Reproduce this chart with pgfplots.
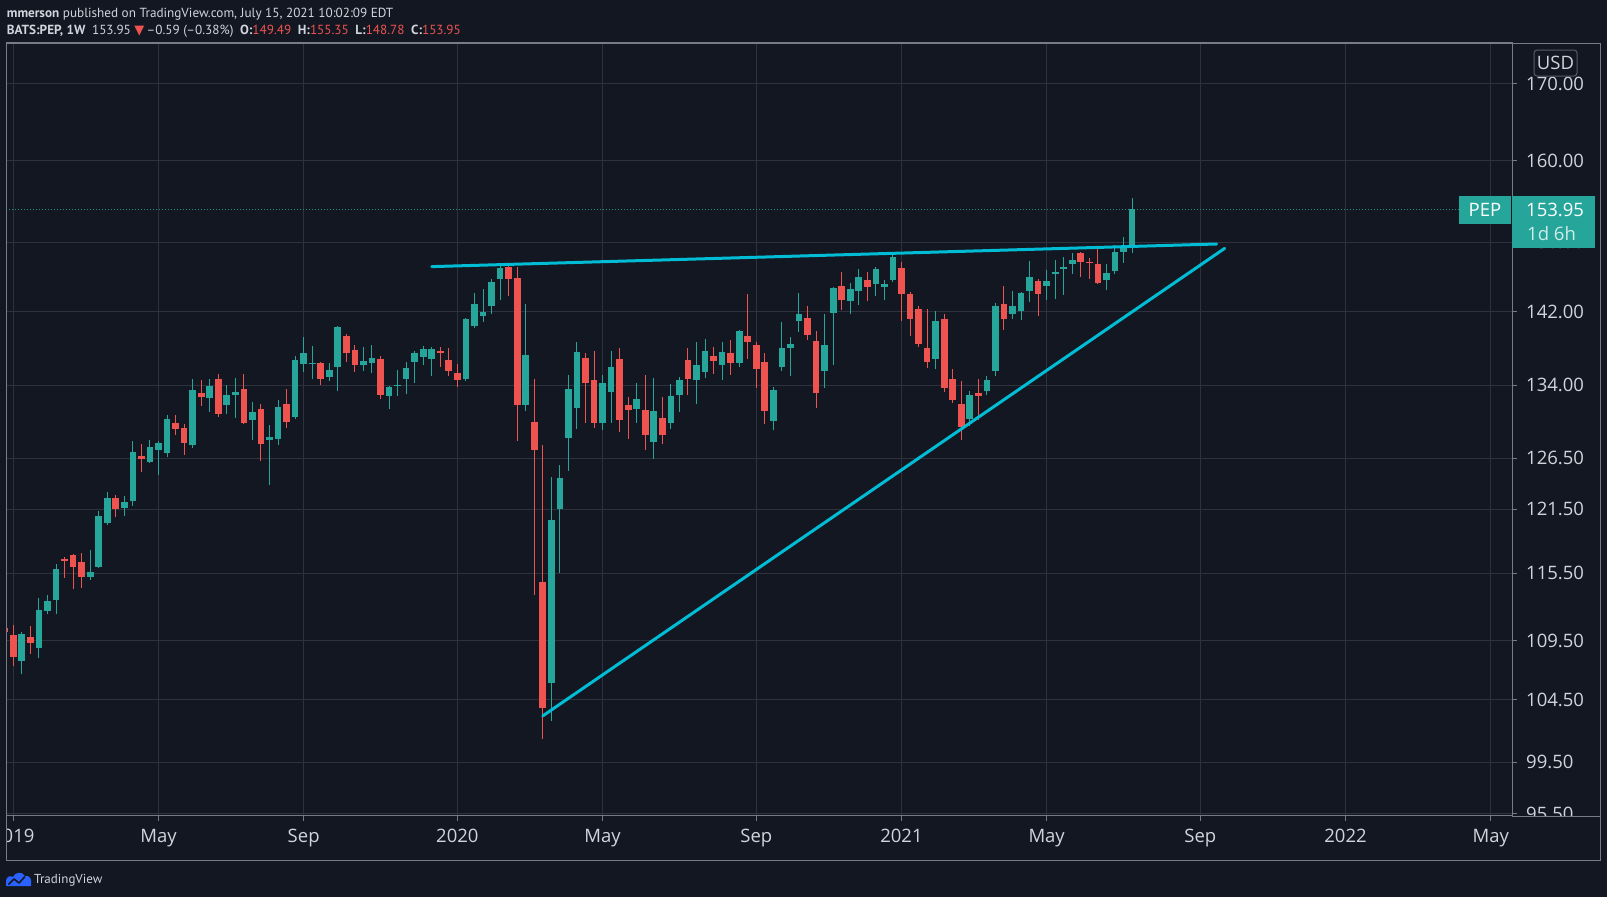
\documentclass[border=0pt]{standalone}
\usepackage{pgfplots}
\pgfplotsset{compat=1.18}
\usepackage{pgfplotstable}
\usepackage{fontspec}
\setmainfont{Open Sans}
\newfontfamily\hdrfont{PT Sans}
\newfontfamily\symfont{DejaVu Sans}

\definecolor{bg}{HTML}{131722}
\definecolor{gridc}{HTML}{2E323E}
\definecolor{framec}{HTML}{787B86}
\definecolor{txt}{HTML}{D1D4DC}
\definecolor{candleup}{HTML}{26A69A}
\definecolor{candledown}{HTML}{EF5350}
\definecolor{trend}{HTML}{00BCD4}
\definecolor{tvblue}{HTML}{2962FF}

% Weekly PEP candles: week index (0 = first week of Jan 2019), open, high, low, close
\pgfplotstableread{
w o h l c
-1 110.6 110.9 110.0 110.3
0 110.0 110.9 107.3 108.1
1 107.8 110.3 106.7 110.1
2 109.8 110.8 108.4 109.3
3 108.9 113.3 108.0 112.2
4 112.1 113.5 111.8 113.0
5 113.1 116.3 111.8 115.9
6 116.8 117.0 115.1 116.6
7 117.2 117.3 114.1 116.1
8 116.5 117.4 114.2 115.2
9 115.2 117.6 114.9 115.6
10 116.1 121.3 116.0 120.8
11 120.2 123.2 120.0 122.6
12 122.6 122.9 120.7 121.5
13 121.6 122.8 120.8 122.2
14 122.3 128.2 121.8 127.1
15 126.7 127.9 125.1 126.4
16 126.1 128.3 126.0 127.6
17 127.3 128.2 124.8 128.0
18 127.0 130.9 126.6 130.5
19 130.1 130.9 128.8 129.4
20 129.5 129.9 126.8 128.0
21 127.8 134.7 127.5 133.5
22 133.2 134.5 131.8 132.7
23 132.6 134.6 131.2 133.9
24 134.7 135.2 130.7 131.0
25 131.9 134.0 131.0 133.0
26 133.0 134.8 130.6 133.3
27 133.6 135.2 129.9 130.0
28 130.4 132.2 128.3 131.2
29 131.5 132.0 126.2 127.9
30 128.3 129.8 123.8 128.6
31 128.4 132.4 127.8 131.7
32 132.0 133.6 129.5 130.2
33 130.7 137.1 130.5 136.7
34 136.3 139.2 135.4 137.4
35 136.3 138.2 134.6 136.4
36 136.4 136.5 134.0 134.6
37 134.9 136.4 134.4 135.6
38 135.9 140.4 133.4 140.3
39 139.3 139.5 136.5 137.5
40 137.8 138.3 135.4 136.2
41 136.2 138.1 135.5 136.6
42 136.4 138.3 135.3 136.9
43 136.8 137.1 132.5 133.0
44 132.9 133.9 131.5 133.8
45 133.9 135.6 132.9 134.0
46 134.6 136.5 133.1 135.8
47 136.5 137.7 134.2 137.4
48 137.0 138.2 136.1 137.9
49 136.8 138.1 135.0 137.9
50 137.7 138.1 135.9 137.5
51 136.7 138.0 135.0 135.5
52 135.3 136.3 133.8 134.5
53 134.6 141.3 134.4 141.2
54 140.4 144.1 140.2 142.9
55 141.5 144.6 140.9 142.0
56 142.7 145.7 141.8 145.4
57 145.7 147.2 143.3 147.0
58 147.1 147.2 143.8 145.7
59 145.8 147.1 128.2 131.9
60 131.9 142.9 131.3 137.2
61 130.2 134.6 113.5 127.3
62 114.7 127.8 101.3 103.8
63 105.9 124.6 102.8 120.5
64 121.5 125.8 115.5 124.5
65 128.5 135.1 125.2 133.6
66 131.6 138.7 129.4 137.6
67 136.9 137.4 130.0 134.2
68 134.5 137.7 129.5 130.1
69 130.1 135.1 129.3 134.2
70 133.3 137.7 130.1 135.9
71 136.8 138.0 129.1 130.4
72 131.9 132.8 128.4 131.4
73 131.5 134.2 130.1 132.5
74 131.4 135.1 127.3 128.8
75 128.1 134.8 126.4 131.3
76 130.6 132.7 127.9 128.8
77 130.1 134.1 129.4 132.9
78 133.0 134.9 131.2 134.5
79 136.7 138.0 133.0 134.6
80 134.5 138.7 132.0 136.1
81 135.4 139.0 134.8 137.7
82 137.1 138.1 135.2 136.6
83 136.2 138.7 134.5 137.6
84 137.5 138.9 135.1 136.4
85 136.4 140.0 135.9 139.9
86 139.3 144.0 136.8 138.7
87 138.3 138.7 133.7 135.7
88 136.5 137.5 129.9 131.3
89 130.3 133.8 129.3 133.5
90 135.9 140.9 135.5 138.0
91 138.0 139.2 135.0 138.4
92 141.0 144.1 139.7 141.8
93 141.3 142.6 138.9 139.4
94 138.8 139.9 131.6 133.2
95 135.5 141.7 133.7 138.3
96 141.9 144.8 136.1 144.7
97 144.9 146.5 142.2 143.3
98 143.2 145.3 141.8 144.6
99 144.4 146.9 142.8 145.9
100 145.6 146.5 143.2 144.8
101 145.2 147.1 143.8 146.9
102 144.8 145.6 143.3 145.1
103 145.6 148.6 145.4 148.3
104 147.0 147.7 141.0 144.0
105 144.0 144.2 139.3 141.2
106 142.3 142.6 138.1 138.4
107 138.0 142.3 135.8 136.5
108 136.8 142.1 135.7 141.0
109 141.2 141.8 133.3 133.7
110 134.6 135.7 132.1 132.4
111 132.0 134.4 128.3 129.6
112 130.5 133.4 129.7 133.0
113 133.2 134.6 130.4 132.9
114 133.4 135.0 133.0 134.5
115 135.5 143.0 135.0 142.7
116 142.9 144.9 140.0 141.2
117 141.8 144.4 141.2 142.6
118 142.1 144.2 141.1 144.1
119 144.4 147.8 143.1 145.9
120 145.5 145.7 141.5 144.0
121 144.9 146.8 143.3 145.5
122 146.3 147.9 143.4 146.5
123 146.9 148.3 143.9 147.1
124 147.5 148.8 146.3 147.9
125 148.8 148.9 146.0 147.7
126 147.7 148.2 145.7 147.6
127 147.5 149.2 145.1 145.3
128 145.6 147.5 144.5 146.4
129 146.7 149.7 146.3 148.9
130 148.9 150.7 147.6 149.5
131 149.49 155.35 148.78 153.95
}\pep

\begin{document}
\begin{tikzpicture}[x=1pt,y=1pt]
\useasboundingbox (0,0) rectangle (1607,-897);
\fill[bg] (0,0) rectangle (1607,-897);

\begin{axis}[
  at={(6.3pt,-43pt)}, anchor=north west,
  scale only axis, width=1505.7pt, height=773pt,
  xmin=-0.82, xmax=175.49,
  ymode=log, ymin=95.35, ymax=175.59,
  axis line style={draw=framec, line width=1pt},
  xtick={0,17,34,52,69,87,104,121,139,156,173},
  xticklabels={2019,May,Sep,2020,May,Sep,2021,May,Sep,2022,May},
  ytick={95.5,99.5,104.5,109.5,115.5,121.5,126.5,134,142,150,160,170},
  yticklabels={95.50,99.50,104.50,109.50,115.50,121.50,126.50,134.00,142.00,150.00,160.00,170.00},
  xtick pos=bottom, ytick pos=right, yticklabel pos=right,
  tick align=outside, major tick length=5pt,
  tick style={draw=framec, line width=1pt},
  minor tick num=0,
  grid=major, major grid style={draw=gridc, line width=1pt},
  ticklabel style={font=\fontsize{18.5}{20}\selectfont, text=txt},
  yticklabel style={anchor=west, inner sep=0pt},
  yticklabel shift=9pt,
  xticklabel style={anchor=base, inner sep=0pt},
  xticklabel shift=22pt,
  clip=false,
  every axis plot/.append style={line cap=butt},
]
% last price line
\addplot[candleup!85!bg, line width=1pt, dash pattern=on 1pt off 2pt, forget plot]
  coordinates {(-0.82,153.95) (175.49,153.95)};

% candles: wick from low to high, body from open to close
\pgfplotstablegetrowsof{\pep}
\pgfmathtruncatemacro{\lastrow}{\pgfplotsretval-1}
\pgfplotsforeachungrouped \rowi in {0,...,\lastrow}{%
  \pgfplotstablegetelem{\rowi}{w}\of\pep \let\cw=\pgfplotsretval
  \pgfplotstablegetelem{\rowi}{o}\of\pep \let\co=\pgfplotsretval
  \pgfplotstablegetelem{\rowi}{h}\of\pep \let\ch=\pgfplotsretval
  \pgfplotstablegetelem{\rowi}{l}\of\pep \let\cl=\pgfplotsretval
  \pgfplotstablegetelem{\rowi}{c}\of\pep \let\cc=\pgfplotsretval
  \ifdim\cc pt<\co pt \def\ccol{candledown}\else\def\ccol{candleup}\fi
  \edef\candle{%
    \noexpand\addplot[\ccol, line width=1pt, forget plot]
      coordinates {(\cw,\cl) (\cw,\ch)};
    \noexpand\addplot[\ccol, line width=6.7pt, forget plot]
      coordinates {(\cw,\co) (\cw,\cc)};
  }%
  \candle
}

% trend lines
\addplot[trend, line width=3pt, line cap=round, forget plot]
  coordinates {(49.0,147.16) (140.9,149.81)};
\addplot[trend, line width=3pt, line cap=round, forget plot]
  coordinates {(62.0,103.19) (141.85,149.29)};

\coordinate (lastpx) at (axis cs:0,153.95);
\end{axis}

% panel edges
\fill[bg] (0,-38) rectangle (5.6,-865);
\fill[bg] (1513,-816.6) rectangle (1599.4,-859.4);
\draw[framec, line width=1pt] (6,-43) rectangle (1600,-860);
\draw[framec, line width=1pt] (1512,-816) -- (1600,-816);

% last price labels
\path (1459,0 |- lastpx) coordinate (pepL);
\fill[candleup] ([yshift=14pt]pepL) rectangle ([xshift=52pt,yshift=-14pt]pepL);
\node[text=white, inner sep=0pt, font=\fontsize{18.5}{20}\selectfont] at ([xshift=26pt]pepL) {PEP};
\fill[candleup] ([xshift=53pt,yshift=14pt]pepL) rectangle ([xshift=136pt,yshift=-38pt]pepL);
\node[text=white, anchor=west, inner sep=0pt, font=\fontsize{18.5}{20}\selectfont] at ([xshift=67pt]pepL) {153.95};
\node[text=white!78!candleup, anchor=west, inner sep=0pt, font=\fontsize{18.5}{20}\selectfont] at ([xshift=68pt,yshift=-24pt]pepL) {1d 6h};

% currency badge
\draw[gridc!80!white, line width=1pt, rounded corners=3pt, fill=bg] (1534,-50) rectangle (1577,-76);
\node[text=txt, inner sep=0pt, font=\fontsize{18.5}{20}\selectfont] at (1555.5,-63) {USD};

% header
\node[anchor=base west, inner sep=0pt, text=txt, font=\hdrfont\fontsize{13.2}{15}\selectfont]
  at (6.7,-17.3) {\textbf{mmerson} published on TradingView.com, July 15, 2021 10:02:09 EDT};
\node[anchor=base west, inner sep=0pt, text=txt, font=\hdrfont\fontsize{13.2}{15}\selectfont]
  at (6.7,-34.3) {\textbf{BATS:PEP, 1W}\enspace 153.95 {\color{candledown}\symfont\fontsize{13}{14}\selectfont ▼}\,–0.59 (–0.38\%)\enspace
  \textbf{O:}\textcolor{candledown}{149.49}\enspace \textbf{H:}\textcolor{candledown}{155.35}\enspace
  \textbf{L:}\textcolor{candledown}{148.78}\enspace \textbf{C:}\textcolor{candledown}{153.95}};

% footer logo
\begin{scope}[shift={(6,-886)}]
  \fill[tvblue] (0,0) -- (0,5) .. controls (0,9) and (4,11) .. (7,9)
    .. controls (9,14) and (16,15) .. (19,10) .. controls (24,11) and (26,6) .. (25,3) -- (25,0) -- cycle;
  \draw[bg, line width=1.6pt, line join=round] (2.5,1.5) -- (8,7) -- (13,3) -- (19,9.5);
\end{scope}
\node[anchor=base west, inner sep=0pt, text=txt, font=\hdrfont\fontsize{13}{14}\selectfont]
  at (34,-883.5) {TradingView};
\end{tikzpicture}
\end{document}
